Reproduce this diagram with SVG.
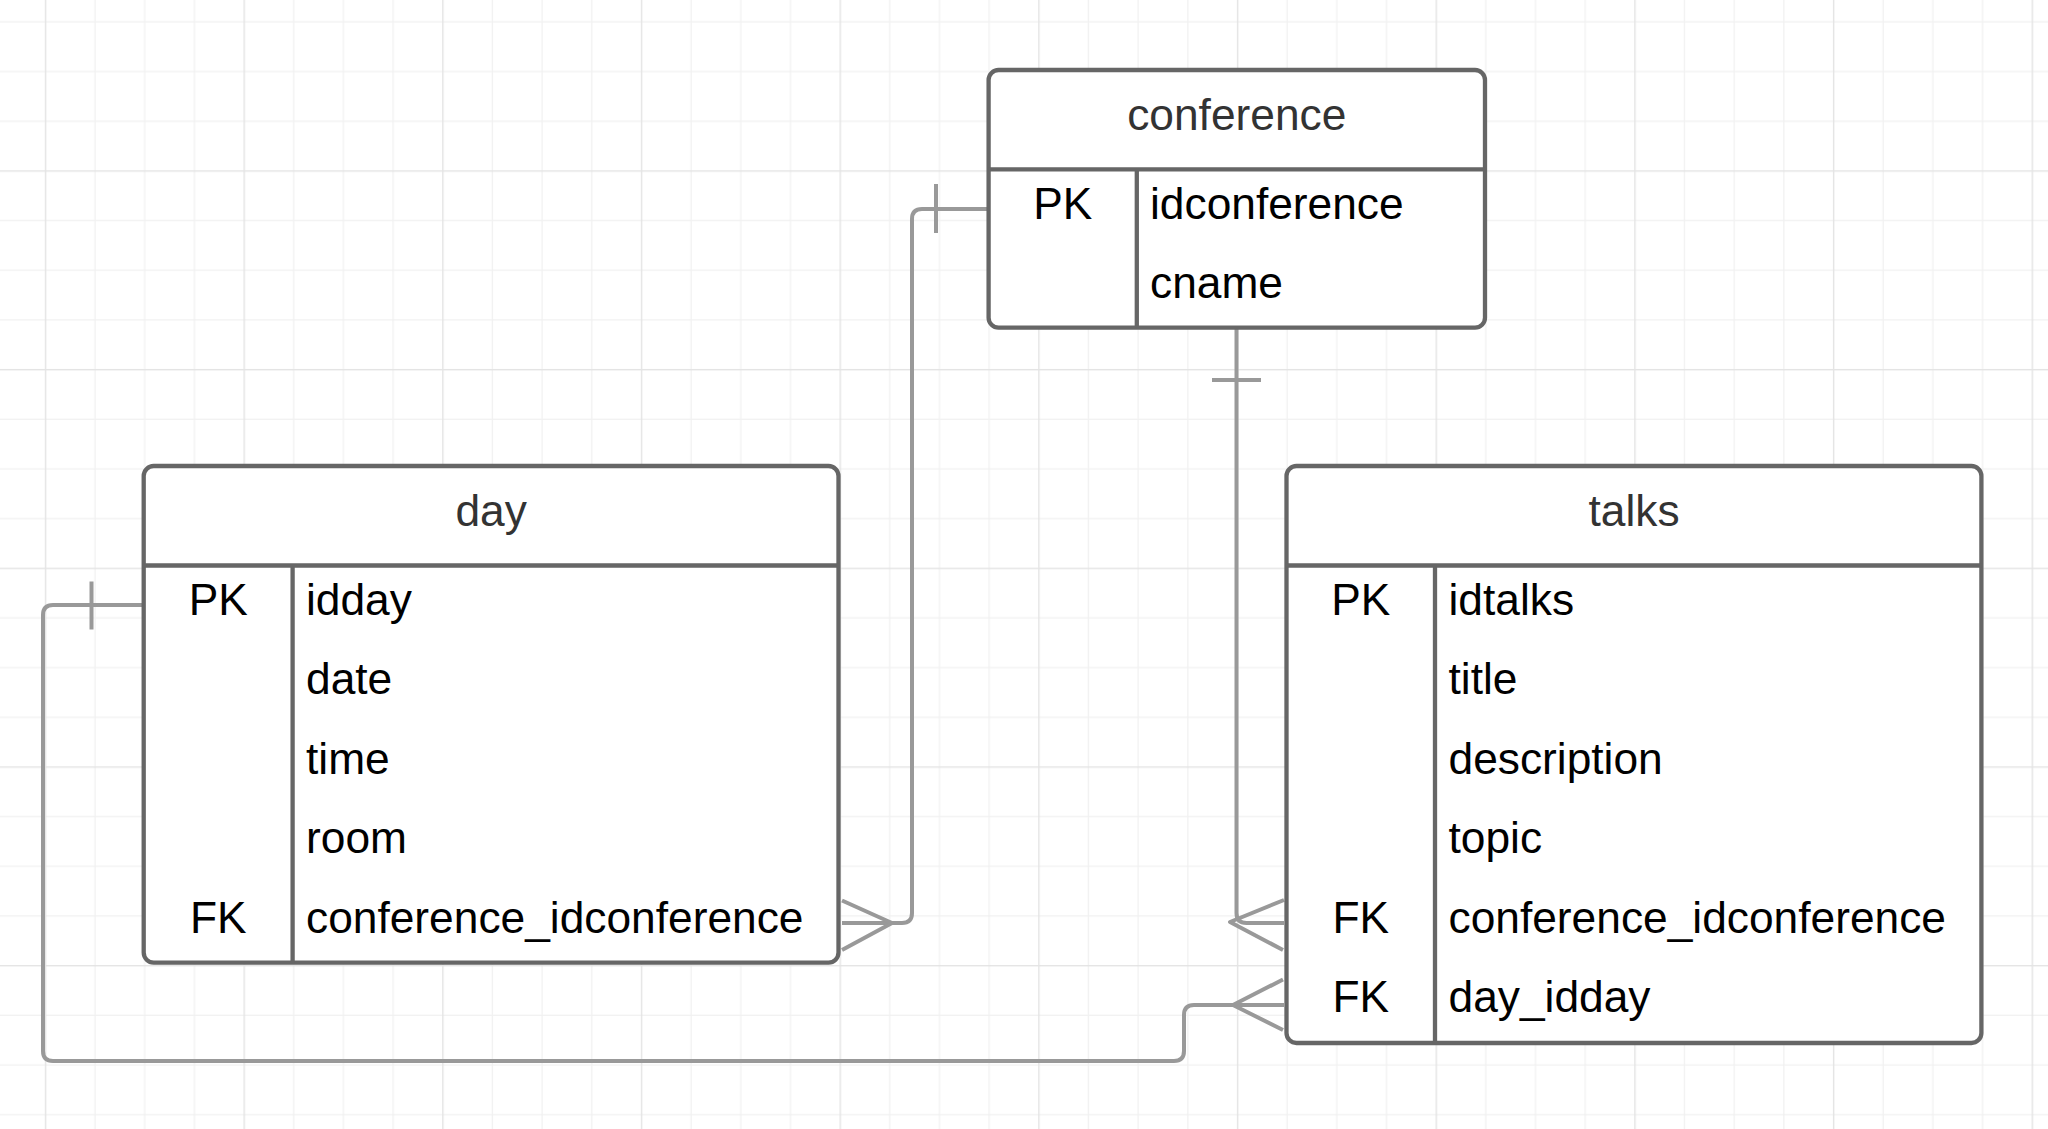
<svg xmlns="http://www.w3.org/2000/svg" width="2048" height="1129" viewBox="0 0 2048 1129">
  <defs>
    <pattern id="grid" x="44.8" y="170.3" width="198.68" height="198.68" patternUnits="userSpaceOnUse">
      <rect x="0" y="0" width="198.68" height="198.68" fill="#ffffff"/>
      <g fill="#f1f1f1">
        <rect x="49.67" y="0" width="1.2" height="198.68"/>
        <rect x="99.34" y="0" width="1.2" height="198.68"/>
        <rect x="149.01" y="0" width="1.2" height="198.68"/>
        <rect x="0" y="49.67" width="198.68" height="1.2"/>
        <rect x="0" y="99.34" width="198.68" height="1.2"/>
        <rect x="0" y="149.01" width="198.68" height="1.2"/>
      </g>
      <g fill="#e4e4e4">
        <rect x="0" y="0" width="1.4" height="198.68"/>
        <rect x="0" y="0" width="198.68" height="1.4"/>
      </g>
    </pattern>
  </defs>
  <style>
    .box { fill: #ffffff; stroke: #666666; stroke-width: 4.3; }
    .div { stroke: #666666; stroke-width: 4.3; fill: none; }
    .title { font-family: "Liberation Sans", Arial, sans-serif; font-size: 44.3px; fill: #333333; text-anchor: middle; }
    .key { font-family: "Liberation Sans", Arial, sans-serif; font-size: 44.3px; fill: #000000; text-anchor: middle; }
    .field { font-family: "Liberation Sans", Arial, sans-serif; font-size: 44.3px; fill: #000000; }
    .conn { fill: none; stroke: #999999; stroke-width: 4; stroke-linejoin: round; }
  </style>
  <rect x="0" y="0" width="2048" height="1129" fill="url(#grid)"/>

  <g id="connectors">
    <!-- conference PK -> day FK -->
    <path class="conn" d="M988,209 H922 Q912,209 912,219 V913 Q912,923 902,923 H842"/>
    <path class="conn" d="M936,184 V233"/>
    <path class="conn" d="M842,900.5 L892,923 L842,950"/>
    <!-- conference -> talks FK conference -->
    <path class="conn" d="M1236.5,328 V913 Q1236.5,923 1246.5,923 H1284"/>
    <path class="conn" d="M1212,380 H1261"/>
    <path class="conn" d="M1284,900 L1230,922 L1283,950"/>
    <!-- day PK -> talks FK day -->
    <path class="conn" d="M143.7,605 H53 Q43,605 43,615 V1051 Q43,1061 53,1061 H1174 Q1184,1061 1184,1051 V1015 Q1184,1005 1194,1005 H1284"/>
    <path class="conn" d="M91.5,581.5 V629.5"/>
    <path class="conn" d="M1283,979.5 L1233,1005 L1283,1030"/>
  </g>

  <g id="conference">
    <rect class="box" x="988.6" y="70" width="496.4" height="257.7" rx="10"/>
    <path class="div" d="M988.6,169.3 H1485 M1136.8,169.3 V327.7"/>
    <text class="title" x="1236.8" y="130">conference</text>
    <text class="key" x="1062.7" y="218.5">PK</text>
    <text class="field" x="1150" y="218.5">idconference</text>
    <text class="field" x="1150" y="298">cname</text>
  </g>

  <g id="day">
    <rect class="box" x="143.7" y="466" width="694.8" height="496.6" rx="10"/>
    <path class="div" d="M143.7,565.5 H838.5 M292.6,565.5 V962.6"/>
    <text class="title" x="491.1" y="525.5">day</text>
    <text class="key" x="218.2" y="615">PK</text>
    <text class="field" x="306" y="615">idday</text>
    <text class="field" x="306" y="694.4">date</text>
    <text class="field" x="306" y="773.8">time</text>
    <text class="field" x="306" y="853.2">room</text>
    <text class="key" x="218.2" y="932.6">FK</text>
    <text class="field" x="306" y="932.6">conference_idconference</text>
  </g>

  <g id="talks">
    <rect class="box" x="1286.5" y="466" width="694.9" height="577" rx="10"/>
    <path class="div" d="M1286.5,565.5 H1981.4 M1435,565.5 V1043"/>
    <text class="title" x="1634" y="525.5">talks</text>
    <text class="key" x="1360.8" y="615">PK</text>
    <text class="field" x="1448.5" y="615">idtalks</text>
    <text class="field" x="1448.5" y="694.4">title</text>
    <text class="field" x="1448.5" y="773.8">description</text>
    <text class="field" x="1448.5" y="853.2">topic</text>
    <text class="key" x="1360.8" y="932.6">FK</text>
    <text class="field" x="1448.5" y="932.6">conference_idconference</text>
    <text class="key" x="1360.8" y="1012">FK</text>
    <text class="field" x="1448.5" y="1012">day_idday</text>
  </g>
</svg>
